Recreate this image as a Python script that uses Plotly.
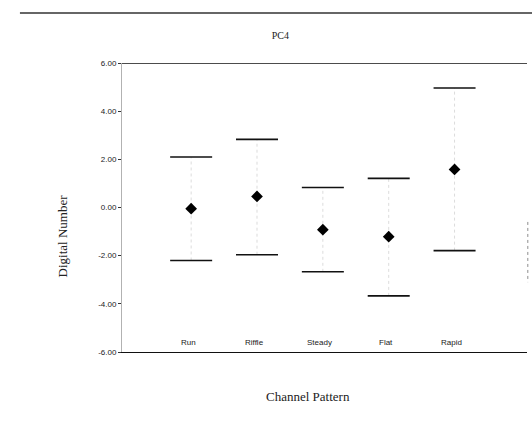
import plotly.graph_objects as go

categories = ["Run", "Riffle", "Steady", "Flat", "Rapid"]
means = [-0.05, 0.46, -0.92, -1.21, 1.58]
upper = [2.10, 2.83, 0.83, 1.21, 4.96]
lower = [-2.20, -1.96, -2.67, -3.67, -1.79]
y_ticks = [6, 4, 2, 0, -2, -4, -6]
y_tick_text = ["6.00", "4.00", "2.00", "0.00", "-2.00", "-4.00", "-6.00"]

fig = go.Figure()

# very faint dotted stems
for c, u, l in zip(categories, upper, lower):
    fig.add_trace(go.Scatter(
        x=[c, c], y=[l, u], mode="lines",
        line=dict(color="rgba(0,0,0,0.14)", width=1, dash="dot"),
        showlegend=False, hoverinfo="skip"))

# upper and lower limit bars
for vals in (upper, lower):
    fig.add_trace(go.Scatter(
        x=categories, y=vals, mode="markers",
        marker=dict(symbol="line-ew", size=30, color="#111111",
                    line=dict(color="#111111", width=1.6)),
        showlegend=False, hoverinfo="skip"))

# means
fig.add_trace(go.Scatter(
    x=categories, y=means, mode="markers",
    marker=dict(symbol="diamond", size=9, color="#000000"),
    showlegend=False))

fig.update_layout(
    width=532, height=423,
    margin=dict(l=122, r=5, t=63, b=71),
    paper_bgcolor="white", plot_bgcolor="white",
    showlegend=False,
    title=dict(text="PC4", x=0.527, xanchor="center", y=0.917, yanchor="middle",
               font=dict(family="Liberation Serif", size=10, color="#222222")),
    font=dict(family="Liberation Sans", size=8, color="#222222"),
)

fig.update_xaxes(
    type="category", categoryorder="array", categoryarray=categories,
    range=[-1.05, 5.1],
    showgrid=False, zeroline=False,
    showline=True, linecolor="#111111", linewidth=1.3,
    ticks="", showticklabels=False,
)

fig.update_yaxes(
    range=[-6, 6], tickvals=y_ticks, ticktext=y_tick_text,
    showgrid=False, zeroline=False,
    showline=True, linecolor="rgba(0,0,0,0.3)", linewidth=1,
    ticks="outside", ticklen=3, tickcolor="#333333",
    tickfont=dict(family="Liberation Sans", size=8, color="#222222"),
)

# category labels sitting just above the bottom axis
for c in categories:
    fig.add_annotation(x=c, xref="x", y=0, yref="paper", text=c,
                       showarrow=False, yanchor="bottom", yshift=3, xshift=-3,
                       font=dict(family="Liberation Sans", size=8, color="#222222"))

# axis titles
fig.add_annotation(x=0.46, xref="paper", y=-0.12, yref="paper",
                   text="Channel Pattern", showarrow=False, yanchor="top",
                   font=dict(family="Liberation Serif", size=13, color="#222222"))
fig.add_annotation(x=-0.148, xref="paper", y=0.40, yref="paper",
                   text="Digital Number", showarrow=False, textangle=-90,
                   xanchor="center", yanchor="middle",
                   font=dict(family="Liberation Serif", size=13, color="#222222"))

# top frame line at 6.00
fig.add_shape(type="line", xref="paper", yref="y", x0=0, x1=1, y0=6, y1=6,
              line=dict(color="#111111", width=1.6))
# scan edge line at the very top of the page
fig.add_shape(type="line", xref="paper", yref="paper", x0=-0.252, x1=1.02,
              y0=1.173, y1=1.173, line=dict(color="#333333", width=1.3))
# faint right-side marks
fig.add_shape(type="line", xref="paper", yref="y", x0=1.002, x1=1.002,
              y0=-0.6, y1=-3.1, line=dict(color="rgba(0,0,0,0.45)", width=1, dash="dot"))

fig.write_html("out.html")
